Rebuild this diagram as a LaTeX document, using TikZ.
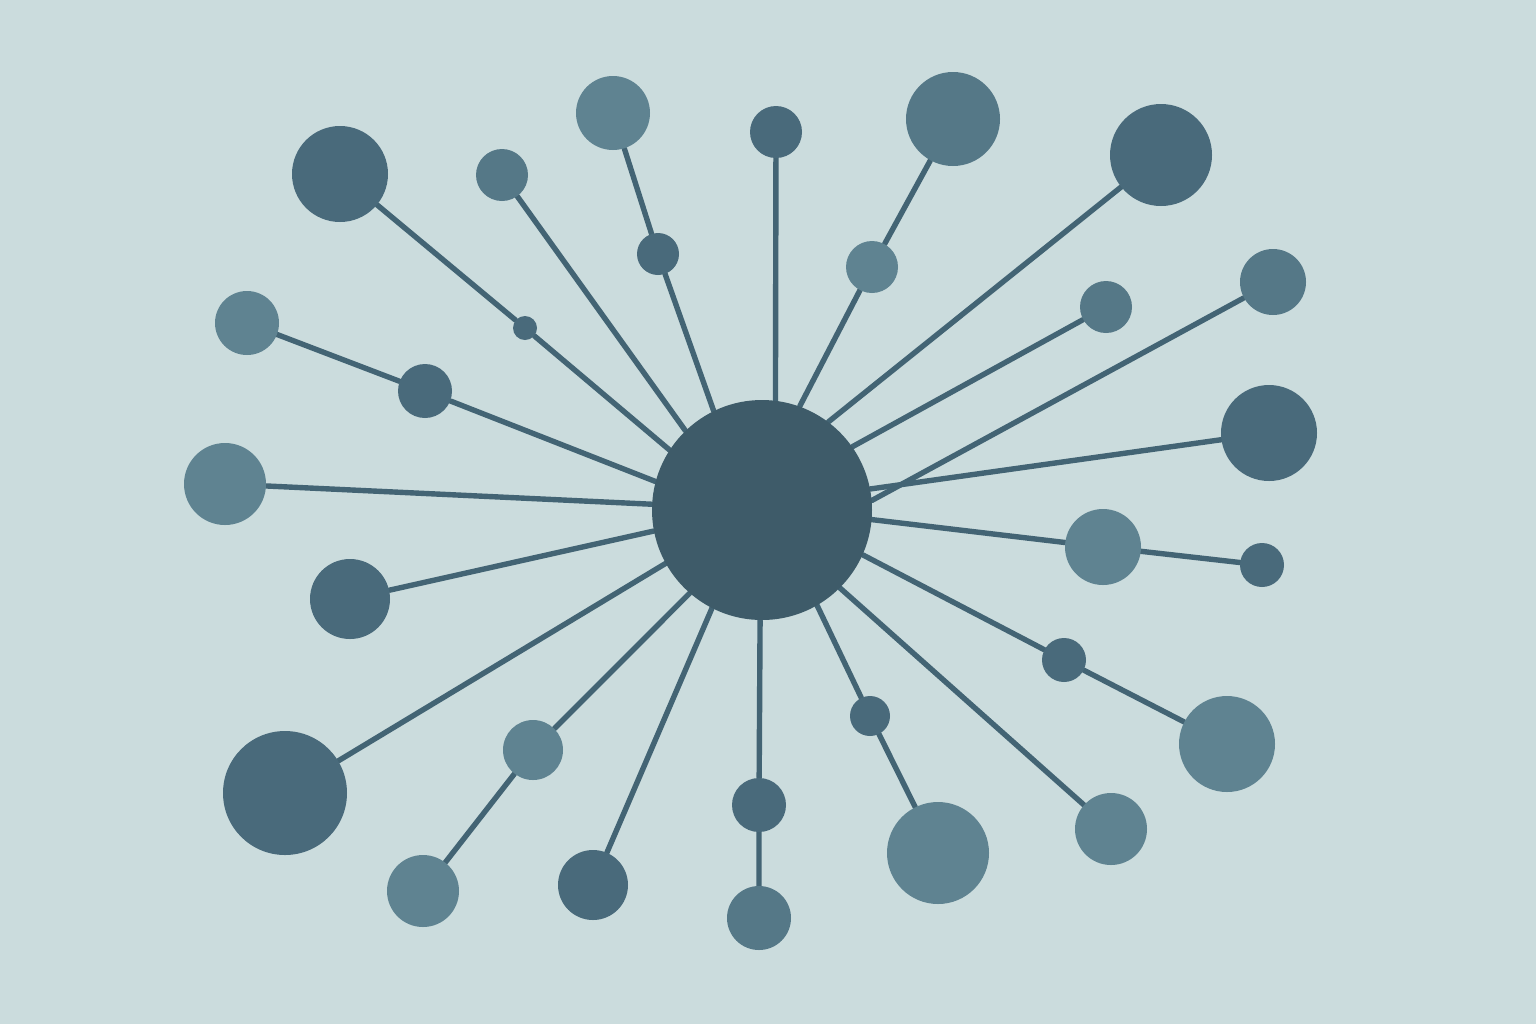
\documentclass[tikz,border=0pt]{standalone}
\pgfdeclarelayer{bg}
\pgfdeclarelayer{lines}
\pgfsetlayers{bg,lines,main}
\definecolor{bgc}{HTML}{CBDCDD}
\definecolor{cdark}{HTML}{496A7B}
\definecolor{cmid}{HTML}{557887}
\definecolor{clight}{HTML}{5F8391}
\definecolor{ccent}{HTML}{3E5B69}
\definecolor{cline}{HTML}{436474}
\tikzset{
  dot/.style={circle, inner sep=0pt, draw=none},
  dk/.style={dot, fill=cdark},
  md/.style={dot, fill=cmid},
  lt/.style={dot, fill=clight},
  spoke/.style={draw=cline, line width=2.7pt, line cap=round}
}
\begin{document}
\begin{tikzpicture}[x=0.5pt,y=-0.5pt]
\begin{pgfonlayer}{bg}
\fill[bgc] (0,0) rectangle (1536,1024);
\end{pgfonlayer}
\useasboundingbox (0,0) rectangle (1536,1024);
% center
\node[dot, fill=ccent, minimum size=110pt] (c) at (762,510) {};
% outer nodes
\node[dk, minimum size=48pt] (e1) at (340,174) {};
\node[dk, minimum size=12pt] (m1) at (525,328) {};
\node[md, minimum size=26pt] (e2) at (502,175) {};
\node[lt, minimum size=37pt] (e3) at (613,113) {};
\node[dk, minimum size=21pt] (m3) at (658,254) {};
\node[dk, minimum size=26pt] (e4) at (776,132) {};
\node[md, minimum size=47pt] (e5) at (953,119) {};
\node[lt, minimum size=26pt] (m5) at (872,267) {};
\node[dk, minimum size=51pt] (e6) at (1161,155) {};
\node[md, minimum size=26pt] (e7) at (1106,307) {};
\node[md, minimum size=33pt] (e8) at (1273,282) {};
\node[dk, minimum size=48pt] (e9) at (1269,433) {};
\node[dk, minimum size=22pt] (e10) at (1262,565) {};
\node[lt, minimum size=38pt] (m10) at (1103,547) {};
\node[lt, minimum size=48pt] (e11) at (1227,744) {};
\node[dk, minimum size=22pt] (m11) at (1064,660) {};
\node[lt, minimum size=36pt] (e12) at (1111,829) {};
\node[lt, minimum size=51pt] (e13) at (938,853) {};
\node[dk, minimum size=20pt] (m13) at (870,716) {};
\node[md, minimum size=32pt] (e14) at (759,918) {};
\node[dk, minimum size=27pt] (m14) at (759,805) {};
\node[dk, minimum size=35pt] (e15) at (593,885) {};
\node[lt, minimum size=36pt] (e16) at (423,891) {};
\node[lt, minimum size=30pt] (m16) at (533,750) {};
\node[dk, minimum size=62pt] (e17) at (285,793) {};
\node[dk, minimum size=40pt] (e18) at (350,599) {};
\node[lt, minimum size=41pt] (e19) at (225,484) {};
\node[lt, minimum size=32pt] (e20) at (247,323) {};
\node[dk, minimum size=27pt] (m20) at (425,391) {};
% spokes
\begin{pgfonlayer}{lines}
\draw[spoke] (c.147.5) -- (m1) -- (e1);
\draw[spoke] (c.134) -- (e2);
\draw[spoke] (c.116) -- (m3) -- (e3);
\draw[spoke] (c.83) -- (e4);
\draw[spoke] (c.70) -- (m5) -- (e5);
\draw[spoke] (c.53) -- (e6);
\draw[spoke] (c.35) -- (e7);
\draw[spoke] (c.5) -- (e8);
\draw[spoke] (c.11) -- (e9);
\draw[spoke] (c.-5) -- (m10) -- (e10);
\draw[spoke] (c.-24) -- (m11) -- (e11);
\draw[spoke] (c.-45) -- (e12);
\draw[spoke] (c.-60) -- (m13) -- (e13);
\draw[spoke] (c.-91) -- (m14) -- (e14);
\draw[spoke] (c.-117) -- (e15);
\draw[spoke] (c.-131) -- (m16) -- (e16);
\draw[spoke] (c.-151) -- (e17);
\draw[spoke] (c.-169) -- (e18);
\draw[spoke] (c.177) -- (e19);
\draw[spoke] (c.165) -- (m20) -- (e20);
\end{pgfonlayer}
\end{tikzpicture}
\end{document}
